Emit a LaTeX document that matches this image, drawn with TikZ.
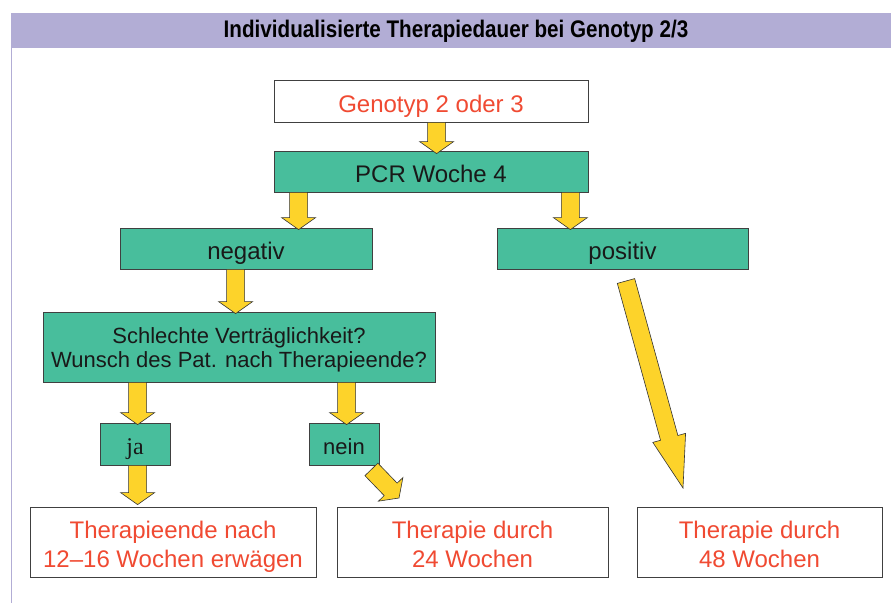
\documentclass[tikz,border=0pt]{standalone}
\usepackage{fontspec}
\setmainfont{Liberation Sans}
\newfontfamily\titlefont{Liberation Sans}[FakeStretch=0.86]
\newfontfamily\serifont{Liberation Serif}
\usetikzlibrary{calc}

\definecolor{boxgreen}{HTML}{48BE9C}
\definecolor{arrowyellow}{HTML}{FDD32A}
\definecolor{titlelila}{HTML}{B2ADD5}
\definecolor{textred}{HTML}{F04A32}

% block arrow: [head length]{tail}{tip}
\newcommand{\blockarrow}[3][12pt]{%
  \coordinate (ba) at ($(#3)!#1!(#2)$);
  \filldraw[yellow arrow] ($(#2)!9pt!90:(#3)$) -- ($(ba)!9pt!90:(#3)$) -- ($(ba)!17pt!90:(#3)$)
    -- (#3) -- ($(ba)!17pt!-90:(#3)$) -- ($(ba)!9pt!-90:(#3)$) -- ($(#2)!9pt!-90:(#3)$) -- cycle;
}

\begin{document}
\begin{tikzpicture}[x=1pt,y=-1pt,
  green box/.style={rectangle, draw=black!75, line width=0.8pt, fill=boxgreen, align=center, inner sep=0pt, text=black!90, font=\fontsize{24}{29}\selectfont, text height=22pt, text depth=0pt},
  white box/.style={rectangle, draw=black!75, line width=0.8pt, fill=white, align=center, inner sep=0pt, text=textred, font=\fontsize{24}{29}\selectfont, text height=22pt, text depth=0pt},
  two lines/.style={text height=50pt, text depth=0pt},
  yellow arrow/.style={draw=black!80, line width=0.6pt, fill=arrowyellow, line join=miter}]
  \useasboundingbox (0,0) rectangle (891,603);

  % Title
  \fill[titlelila] (11,13) rectangle (891,48);
  \draw[titlelila, line width=1.2pt] (11.6,48) -- (11.6,603);
  \node (title) at (456,31) {\titlefont\bfseries\fontsize{24}{28}\selectfont Individualisierte Therapiedauer bei Genotyp 2/3};

  % Boxes
  \node[white box, minimum width=314pt, minimum height=42pt] (geno) at (431,101) {Genotyp 2 oder 3};
  \node[green box, minimum width=314pt, minimum height=41pt] (pcr) at (431,171.5) {PCR Woche 4};
  \node[green box, minimum width=252pt, minimum height=41pt] (neg) at (246,248.5) {negativ};
  \node[green box, minimum width=251pt, minimum height=41pt] (pos) at (622.5,248.5) {positiv};
  \node[green box, two lines, text height=40pt, minimum width=392pt, minimum height=70pt, font=\fontsize{22}{24}\selectfont] (frage) at (239,347)
    {Schlechte Verträglichkeit?\\Wunsch des Pat. nach Therapieende?};
  \node[green box, minimum width=70pt, minimum height=42pt, text height=20pt, font=\serifont\fontsize{24}{29}\selectfont] (ja) at (135,444) {ja};
  \node[green box, minimum width=70pt, minimum height=42pt, text height=20pt, font=\fontsize{22}{26}\selectfont] (nein) at (344,444) {nein};
  \node[white box, two lines, minimum width=286pt, minimum height=70pt] (end1) at (173,542) {Therapieende nach\\12--16 Wochen erwägen};
  \node[white box, two lines, minimum width=271pt, minimum height=70pt] (end2) at (472.5,542) {Therapie durch\\24 Wochen};
  \node[white box, two lines, minimum width=245pt, minimum height=70pt] (end3) at (759.5,542) {Therapie durch\\48 Wochen};

  % Arrows
  \coordinate (a1) at ($(geno.south west)+(163,0)$);
  \blockarrow{a1}{$(a1 |- pcr.north)+(0,3)$}
  \coordinate (a2) at ($(pcr.south west)+(25,0)$);
  \blockarrow{a2}{$(a2 |- neg.north)+(0,2)$}
  \coordinate (a3) at ($(pcr.south east)+(-18,0)$);
  \blockarrow{a3}{$(a3 |- pos.north)+(0,2)$}
  \coordinate (a4) at ($(neg.south west)+(116,0)$);
  \blockarrow{a4}{$(a4 |- frage.north)+(0,2)$}
  \coordinate (a5) at ($(frage.south west)+(95,0)$);
  \blockarrow{a5}{$(a5 |- ja.north)+(0,2)$}
  \coordinate (a6) at ($(frage.south west)+(304,0)$);
  \blockarrow{a6}{$(a6 |- nein.north)+(0,2)$}
  \coordinate (a7) at ($(ja.south west)+(38,0)$);
  \blockarrow{a7}{$(a7 |- end1.north)+(0,-2)$}
  \coordinate (a8) at ($(nein.south east)+(-8,4)$);
  \coordinate (a8 tip) at (399,498);
  \blockarrow{a8}{a8 tip}
  \coordinate (a9) at (626,281);
  \coordinate (a9 tip) at (683,488);
  \blockarrow[52pt]{a9}{a9 tip}
\end{tikzpicture}
\end{document}
